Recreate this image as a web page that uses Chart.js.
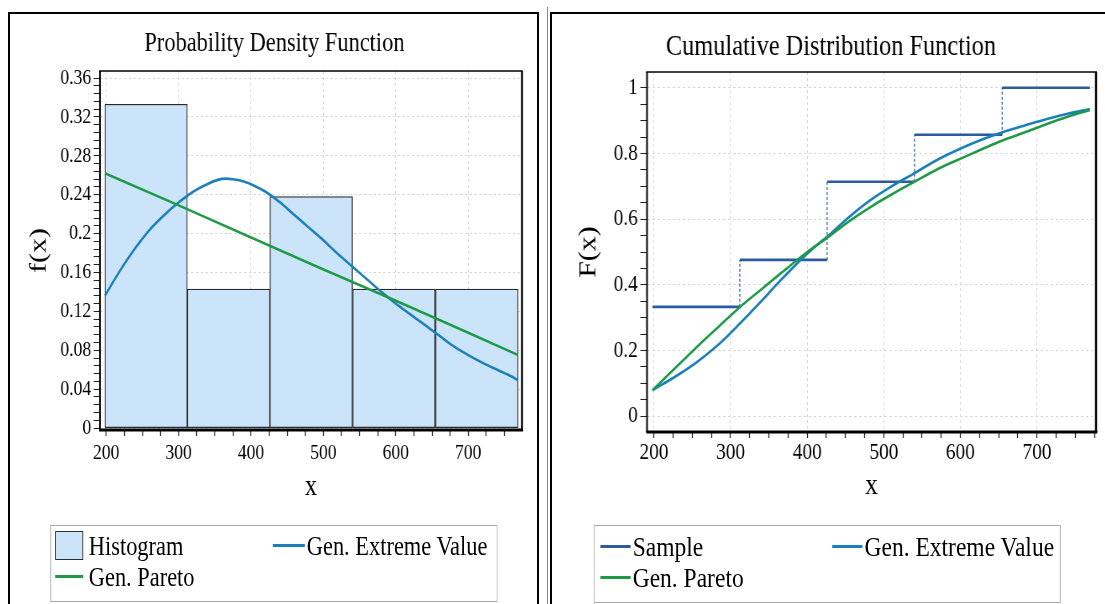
<!DOCTYPE html>
<html><head><meta charset="utf-8">
<script src="https://cdn.jsdelivr.net/npm/chart.js@4.4.1/dist/chart.umd.min.js"></script>
<style>
html,body{margin:0;padding:0;background:#fff;width:1105px;height:604px;overflow:hidden;font-family:'Liberation Serif',serif;}
.panel{position:absolute;top:0;height:604px;transform-origin:0 0;}
#pL{left:0;width:690px;transform:scaleX(0.8);}
#pR{left:550px;width:662px;transform:scaleX(0.84);}
canvas{position:absolute;top:12px;left:0;}
.legend{position:absolute;top:525px;border:1px solid #a8a8a8;box-sizing:border-box;}
.txt{position:absolute;white-space:nowrap;font-size:28px;line-height:32px;color:#000;}
.sym{position:absolute;box-sizing:border-box;}
.bd{position:absolute;background:#000;}
</style></head>
<body>
<div id="pL" class="panel"><canvas id="cL" width="664" height="592" style="left:10px"></canvas>
  <div id="lgL" class="legend" style="left:62.5px;width:559px;height:77px"></div></div>
<div id="pR" class="panel"><canvas id="cR" width="661" height="592"></canvas>
  <div id="lgR" class="legend" style="left:52.4px;width:556px;height:78px"></div></div>
<div class="bd" style="left:8px;top:12px;width:531px;height:2px"></div>
<div class="bd" style="left:8px;top:12px;width:2px;height:592px"></div>
<div class="bd" style="left:537px;top:12px;width:2px;height:592px"></div>
<div class="bd" style="left:547px;top:7px;width:1px;height:597px;background:#8a8a8a"></div>
<div class="bd" style="left:550px;top:12px;width:555px;height:2px"></div>
<div class="bd" style="left:550px;top:12px;width:2px;height:592px"></div>
<script>
// ---------- data ----------
const binEdges   = [198, 312, 426, 540, 654.5, 769];
const histFreq   = [0.333, 0.143, 0.238, 0.143, 0.143];
const sampleCdf  = [0.333, 0.476, 0.714, 0.857, 1.0];

const gevPdfX = [198, 220, 240, 260, 280, 300, 320, 340, 355, 365, 375, 390, 405, 420, 440, 460, 480, 500, 520, 540, 560, 580, 600, 620, 640, 660, 680, 700, 720, 740, 760, 769];
const gevPdfY = [0.136, 0.163, 0.185, 0.204, 0.219, 0.232, 0.243, 0.251, 0.2555, 0.2565, 0.2558, 0.2535, 0.249, 0.243, 0.232, 0.219, 0.206, 0.193, 0.179, 0.166, 0.153, 0.140, 0.128, 0.117, 0.106, 0.095, 0.084, 0.075, 0.067, 0.060, 0.053, 0.049];
const gpPdfX  = [198, 300, 400, 500, 600, 700, 769];
const gpPdfY  = [0.262, 0.229, 0.196, 0.163, 0.131, 0.098, 0.075];

const cdfX    = [198, 230, 256, 285, 312, 340, 365, 400, 430, 455, 482, 510, 538.5, 570, 604, 630, 654, 685, 713, 740, 769];
const gevCdfY = [0.079, 0.124, 0.165, 0.22, 0.282, 0.35, 0.413, 0.495, 0.555, 0.607, 0.657, 0.70, 0.738, 0.781, 0.819, 0.844, 0.864, 0.886, 0.905, 0.921, 0.935];
const gpCdfY  = [0.079, 0.152, 0.211, 0.274, 0.332, 0.386, 0.434, 0.50, 0.55, 0.594, 0.636, 0.675, 0.712, 0.752, 0.788, 0.815, 0.839, 0.865, 0.89, 0.912, 0.932];

const xTickLabels   = [200, 300, 400, 500, 600, 700];
const pdfTickLabels = [0, 0.04, 0.08, 0.12, 0.16, 0.2, 0.24, 0.28, 0.32, 0.36];
const cdfTickLabels = [0, 0.2, 0.4, 0.6, 0.8, 1];

// ---------- styles ----------
const C_GEV = '#1b7fb9', C_GP = '#1e9a47', C_SAMPLE = '#2c5a9e', C_HIST = '#cce4fa', C_HISTB = '#2b2b2b';
const GRID = '#d6d6d6';
Chart.defaults.font.family = "'Liberation Serif', 'Times New Roman', serif";
Chart.defaults.color = '#000';

const pts = (xs, ys) => xs.map((x, i) => ({x, y: ys[i]}));
const isIn = (arr, v) => arr.some(m => Math.abs(m - v) < 1e-9);
const fmt = v => String(+v.toFixed(3));

const framePlugin = {
  id: 'frame',
  afterDatasetsDraw(chart) {
    const {ctx, chartArea: a} = chart;
    ctx.save();
    ctx.strokeStyle = '#000';
    const ln = (x1, y1, x2, y2, w) => { ctx.lineWidth = w; ctx.beginPath(); ctx.moveTo(x1, y1); ctx.lineTo(x2, y2); ctx.stroke(); };
    ln(a.left - 1, a.top, a.right + 1, a.top, 1.5);
    ln(a.left, a.top, a.left, a.bottom, 2);
    ln(a.right, a.top, a.right, a.bottom, 2.5);
    ln(a.left - 1, a.bottom, a.right + 1.5, a.bottom, 3);
    ctx.restore();
  }
};

function xAxis(min, max, fs, tickPad, titlePadB) {
  return {
    type: 'linear', min, max, offset: false,
    afterFit: s => { s.height = 80; },
    grid: { offset: false, lineWidth: 1, color: c => (c.tick && isIn(xTickLabels, c.tick.value)) ? GRID : 'rgba(0,0,0,0)',
            tickColor: '#222', tickLength: 6, tickWidth: 1.25 },
    border: { display: false, dash: [3, 3] },
    ticks: { stepSize: 25, includeBounds: false, autoSkip: false, maxRotation: 0, minRotation: 0, padding: tickPad,
             font: { size: fs }, color: '#000', callback: v => isIn(xTickLabels, v) ? fmt(v) : '' },
    title: { display: true, text: 'x', color: '#000', font: { size: 30 }, padding: { top: 0, bottom: titlePadB } }
  };
}
function yAxis(min, max, step, labels, fs, width, titleText, titlePadT) {
  return {
    type: 'linear', min, max,
    afterFit: s => { s.width = width; },
    grid: { lineWidth: 1, color: c => (c.tick && isIn(labels, c.tick.value)) ? GRID : 'rgba(0,0,0,0)',
            tickColor: '#222', tickLength: 8, tickWidth: 1 },
    border: { display: false, dash: [3, 3] },
    ticks: { stepSize: step, includeBounds: false, autoSkip: false, padding: 3, font: { size: fs }, color: '#000',
             callback: v => isIn(labels, v) ? fmt(v) : '' },
    title: { display: true, text: titleText, color: '#000', font: { size: 30 }, padding: { top: titlePadT, bottom: 0 } }
  };
}
const hiddenX = (min, max) => ({ type: 'linear', display: false, min, max, offset: false, grid: { offset: false }, ticks: { stepSize: 500, display: false } });

// ---------- PDF chart ----------
const binCenters = histFreq.map((_, i) => (binEdges[i] + binEdges[i + 1]) / 2);
const chartL = new Chart(document.getElementById('cL'), {
  type: 'line',
  data: { datasets: [
    { type: 'bar', label: 'Histogram', xAxisID: 'xh', data: pts(binCenters, histFreq), backgroundColor: C_HIST,
      borderColor: C_HISTB, borderWidth: 1.25, borderSkipped: false, categoryPercentage: 1, barPercentage: 1, grouped: false, order: 3 },
    { type: 'line', label: 'Gen. Extreme Value', data: pts(gevPdfX, gevPdfY), borderColor: C_GEV, borderWidth: 2.6,
      pointRadius: 0, cubicInterpolationMode: 'monotone', fill: false, order: 2 },
    { type: 'line', label: 'Gen. Pareto', data: pts(gpPdfX, gpPdfY), borderColor: C_GP, borderWidth: 2.6,
      pointRadius: 0, tension: 0, fill: false, order: 1 }
  ]},
  options: {
    responsive: false, animation: false, events: [],
    layout: { padding: { left: 23.7, right: 21.5, top: 0, bottom: 94 } },
    plugins: { legend: { display: false }, tooltip: { enabled: false },
      title: { display: true, text: 'Probability Density Function', color: '#000', font: { size: 28, weight: 'normal' }, padding: { top: 15, bottom: 10.4 } } },
    scales: {
      x: xAxis(191.3, 774.2, 22, 3.8, 5.2),
      xh: hiddenX(191.3, 774.2),
      y: yAxis(-0.002, 0.3672, 0.008, pdfTickLabels, 22, 91.3, 'f(x)', -2.95)
    }
  },
  plugins: [framePlugin]
});

// ---------- CDF chart ----------
const samplePts = [];
sampleCdf.forEach((v, i) => { samplePts.push({x: binEdges[i], y: v}); samplePts.push({x: binEdges[i + 1], y: v}); });
const isVert = c => c.p0.parsed.x === c.p1.parsed.x;
const chartR = new Chart(document.getElementById('cR'), {
  type: 'line',
  data: { datasets: [
    { type: 'line', label: 'Sample', data: samplePts, borderColor: C_SAMPLE, borderWidth: 2.6, pointRadius: 0, tension: 0, fill: false, order: 3,
      segment: { borderDash: c => isVert(c) ? [3, 2] : undefined, borderWidth: c => isVert(c) ? 1.2 : undefined } },
    { type: 'line', label: 'Gen. Extreme Value', data: pts(cdfX, gevCdfY), borderColor: C_GEV, borderWidth: 2.6,
      pointRadius: 0, cubicInterpolationMode: 'monotone', fill: false, order: 2 },
    { type: 'line', label: 'Gen. Pareto', data: pts(cdfX, gpCdfY), borderColor: C_GP, borderWidth: 2.6,
      pointRadius: 0, cubicInterpolationMode: 'monotone', fill: false, order: 1 }
  ]},
  options: {
    responsive: false, animation: false, events: [],
    layout: { padding: { left: 19, right: 11, top: 0, bottom: 92 } },
    plugins: { legend: { display: false }, tooltip: { enabled: false },
      title: { display: true, text: 'Cumulative Distribution Function', color: '#000', font: { size: 29, weight: 'normal' }, padding: { top: 17.6, bottom: 7.6 } } },
    scales: {
      x: xAxis(190.9, 777, 23, 1.2, 7.7),
      y: yAxis(-0.048, 1.048, 0.05, cdfTickLabels, 23, 96.5, 'F(x)', 9.4)
    }
  },
  plugins: [framePlugin]
});

// ---------- legends (HTML, built from dataset labels/colours) ----------
function buildLegend(el, chart, cols, rowsY) {
  const slots = [[0, 0], [1, 0], [0, 1]];
  chart.data.datasets.forEach((ds, i) => {
    const [c, r] = slots[i];
    const col = cols[c], cy = rowsY[r];
    const s = document.createElement('div');
    s.className = 'sym';
    if (ds.type === 'bar') {
      Object.assign(s.style, { left: col.sym + 'px', top: (cy - 14.5) + 'px', width: col.w + 'px', height: '29px',
        background: ds.backgroundColor, border: '1.5px solid ' + ds.borderColor });
    } else {
      Object.assign(s.style, { left: col.sym + 'px', top: (cy - 1.5) + 'px', width: col.w + 'px', height: '3px', background: ds.borderColor });
    }
    el.appendChild(s);
    const t = document.createElement('div');
    t.className = 'txt';
    t.textContent = ds.label;
    Object.assign(t.style, { left: col.txt + 'px', top: (cy - 16) + 'px' });
    el.appendChild(t);
  });
}
buildLegend(document.getElementById('lgL'), chartL, [{sym: 5, w: 35, txt: 47.5}, {sym: 277, w: 40, txt: 320}], [19.5, 50.5]);
buildLegend(document.getElementById('lgR'), chartR, [{sym: 6.5, w: 36, txt: 45}, {sym: 283, w: 36, txt: 321}], [20.5, 51.5]);
</script>
</body></html>
